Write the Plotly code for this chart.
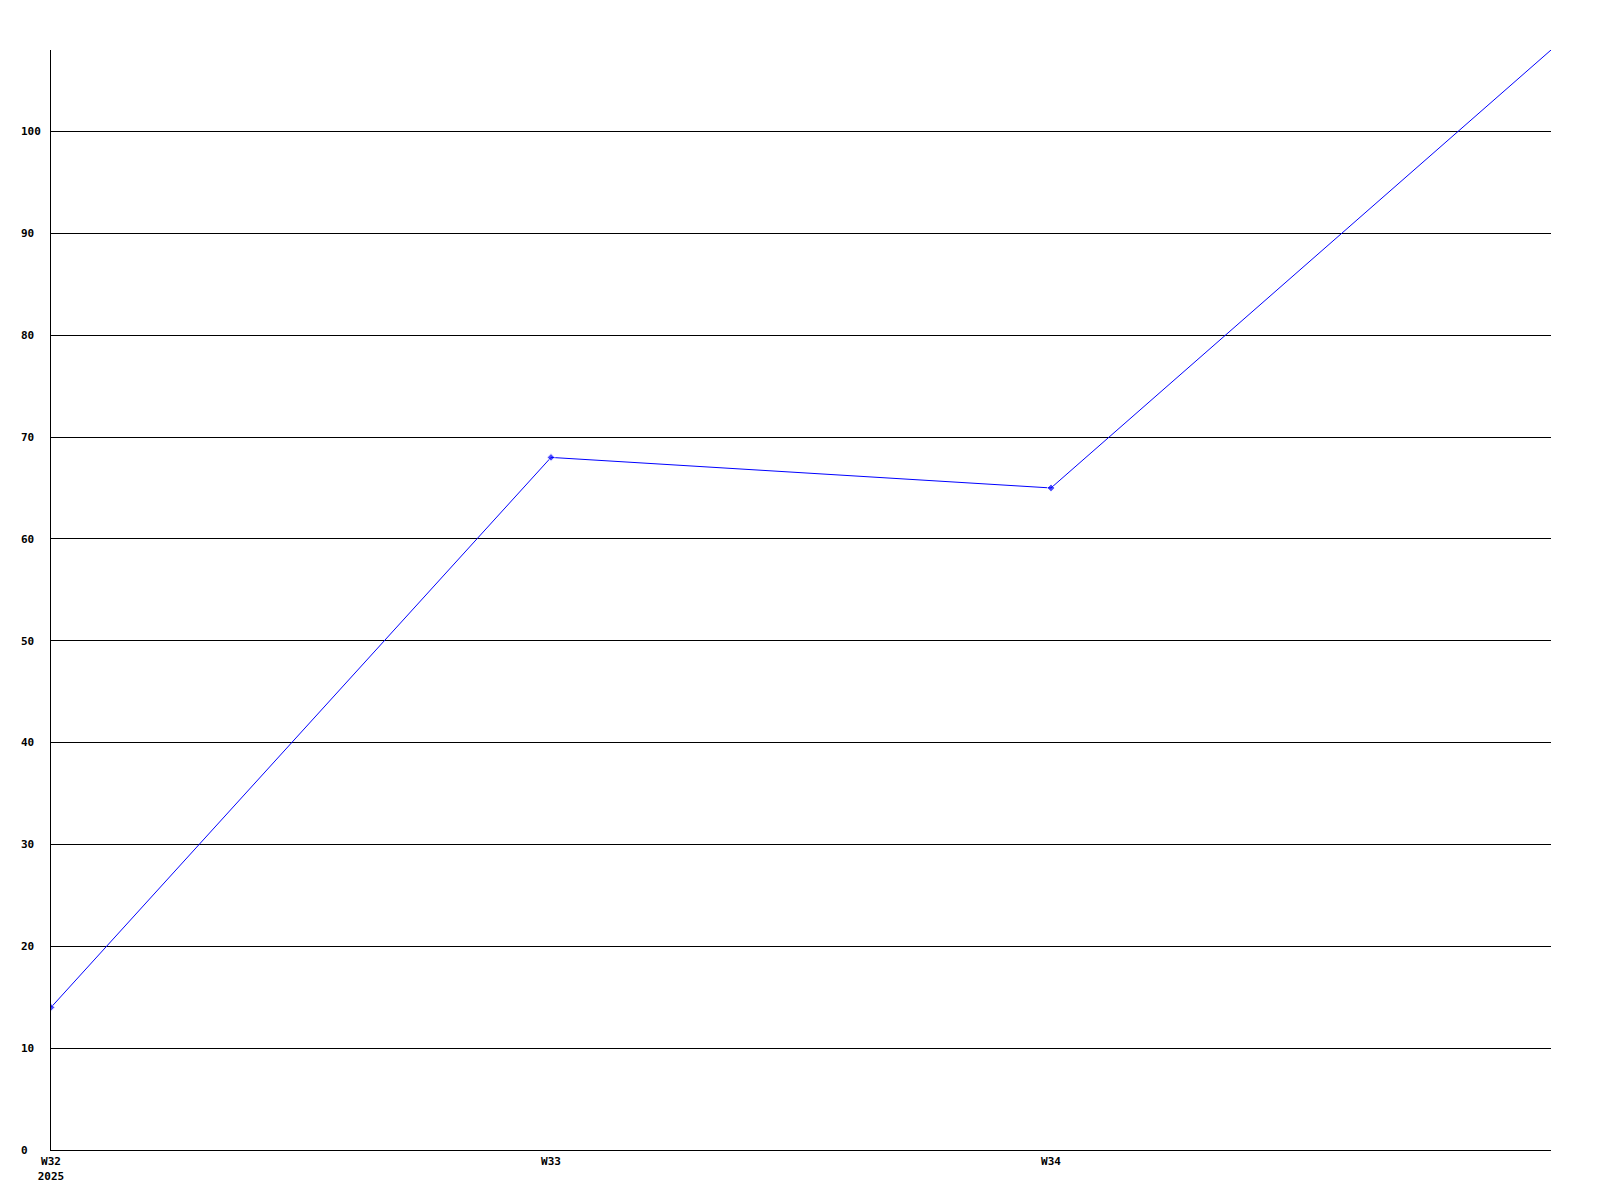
import plotly.graph_objects as go

weeks = ["W32", "W33", "W34", "W35"]
values = [14, 68, 65, 108]
x_tick_vals = ["W32", "W33", "W34"]
x_tick_text = ["W32<br>2025", "W33", "W34"]
y_tick_vals = [0, 10, 20, 30, 40, 50, 60, 70, 80, 90, 100]
y_tick_text = [str(v).ljust(3, "\u00a0") for v in y_tick_vals]

marker_sizes = [6] * (len(weeks) - 1) + [0]

fig = go.Figure()
fig.add_trace(go.Scatter(
    x=weeks, y=values, mode="lines+markers",
    line=dict(color="#0000ff", width=1),
    marker=dict(color="#0000ff", size=marker_sizes, symbol="diamond"),
    cliponaxis=True, showlegend=False,
))

font = dict(family="DejaVu Sans Mono", size=11, color="#000000", weight="bold")

fig.update_layout(
    width=1600, height=1200,
    margin=dict(l=43, r=57, t=42, b=58),
    paper_bgcolor="#ffffff", plot_bgcolor="#ffffff",
    font=font,
    xaxis=dict(
        type="category", range=[0, 3], automargin=False,
        tickmode="array", tickvals=x_tick_vals, ticktext=x_tick_text,
        showgrid=False, zeroline=False, showline=True,
        linecolor="#000000", linewidth=1, ticks="",
        tickfont=font, ticklabelstandoff=1,
    ),
    yaxis=dict(
        range=[0, 108], automargin=False,
        tickmode="array", tickvals=y_tick_vals, ticktext=y_tick_text,
        showgrid=True, gridcolor="#000000", gridwidth=1,
        zeroline=False, showline=True, linecolor="#000000", linewidth=1,
        ticks="", tickfont=font, ticklabelstandoff=7,
    ),
)

fig.write_html("out.html")
